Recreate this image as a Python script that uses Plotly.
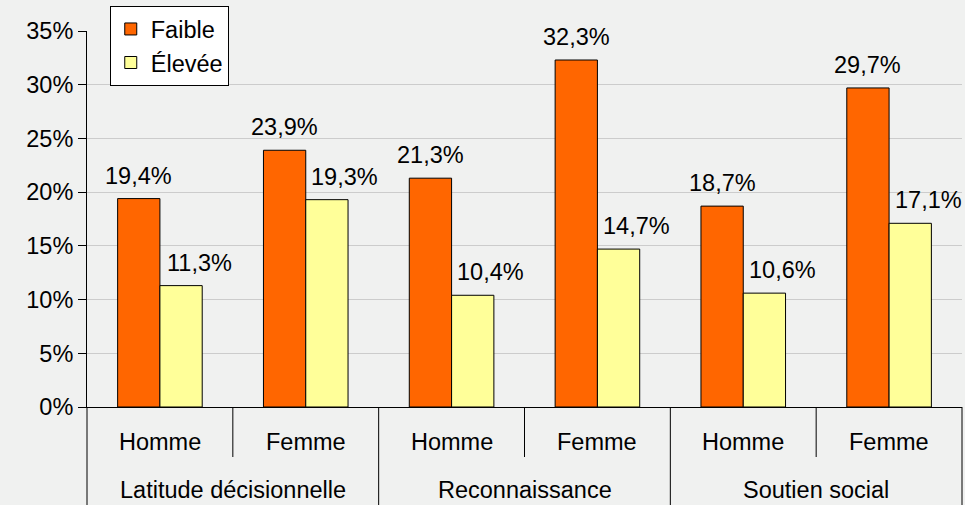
import plotly.graph_objects as go

groups = ["Latitude décisionnelle", "Latitude décisionnelle", "Reconnaissance", "Reconnaissance", "Soutien social", "Soutien social"]
sexes = ["Homme", "Femme", "Homme", "Femme", "Homme", "Femme"]
faible = [0.194, 0.239, 0.213, 0.323, 0.187, 0.297]
elevee = [0.113, 0.193, 0.104, 0.147, 0.106, 0.171]
y_ticks = [0, 0.05, 0.10, 0.15, 0.20, 0.25, 0.30, 0.35]

FONT = "Liberation Sans, Arial, sans-serif"
FS = 23.5
BG = "#f0f1f0"
PLOT_H = 376.0  # plot area height in px
BARGAP = 0.42

fig = go.Figure()
fig.add_trace(go.Bar(
    x=[groups, sexes], y=faible, name="Faible", legendgroup="a",
    marker=dict(color="#ff6600", line=dict(color="#000000", width=1)),
))
fig.add_trace(go.Bar(
    x=[groups, sexes], y=elevee, name="Élevée", legendgroup="b",
    marker=dict(color="#ffff99", line=dict(color="#000000", width=1)),
))

n = len(sexes)
shapes = []
for k in range(n + 1):
    long_line = (k % 2 == 0)
    shapes.append(dict(type="line", xref="paper", yref="paper",
                       x0=k / n, x1=k / n, y0=0,
                       y1=-100 / PLOT_H if long_line else -50 / PLOT_H,
                       line=dict(color="#000000", width=1)))

annotations = []
for i, s in enumerate(sexes):
    annotations.append(dict(xref="paper", yref="paper", x=(i + 0.5) / n, y=-35 / PLOT_H,
                            text=s, showarrow=False, xanchor="center", yanchor="middle",
                            font=dict(size=FS, family=FONT, color="#000000")))
for j in range(0, n, 2):
    annotations.append(dict(xref="paper", yref="paper", x=(j + 1) / n, y=-83 / PLOT_H,
                            text=groups[j], showarrow=False, xanchor="center", yanchor="middle",
                            font=dict(size=FS, family=FONT, color="#000000")))

# value labels above bars (decimal comma)
half = (1 - BARGAP) / 4
for vals, off, xs in ((faible, -half, 0), (elevee, half, 18)):
    for i, v in enumerate(vals):
        annotations.append(dict(xref="paper", yref="y", x=(i + 0.5 + off) / n, y=v,
                                text=f"{v * 100:.1f}%".replace(".", ","),
                                showarrow=False, xanchor="center", yanchor="bottom",
                                xshift=xs, yshift=8,
                                font=dict(size=FS, family=FONT, color="#000000")))

fig.update_layout(
    width=965, height=505,
    margin=dict(l=87, r=3, t=31, b=98),
    paper_bgcolor=BG, plot_bgcolor=BG,
    separators=", ",
    barmode="group", bargap=BARGAP, bargroupgap=0,
    font=dict(family=FONT, size=FS, color="#000000"),
    showlegend=True,
    legend=dict(x=0.026, y=1.066, xanchor="left", yanchor="top",
                bgcolor="#ffffff", bordercolor="#000000", borderwidth=1,
                font=dict(size=FS, family=FONT), tracegroupgap=0,
                itemwidth=30),
    yaxis=dict(range=[0, 0.35], tickvals=y_ticks, tickformat=".0%",
               showgrid=True, gridcolor="#cccccc", gridwidth=1,
               showline=True, linecolor="#000000", linewidth=1,
               ticks="outside", ticklen=8, tickcolor="#000000",
               zeroline=False, tickfont=dict(size=FS)),
    xaxis=dict(type="multicategory", range=[-0.5, n - 0.5],
               showline=True, linecolor="#000000", linewidth=1,
               ticks="", showticklabels=False, showdividers=False),
    shapes=shapes,
    annotations=annotations,
)

fig.write_html("out.html")
